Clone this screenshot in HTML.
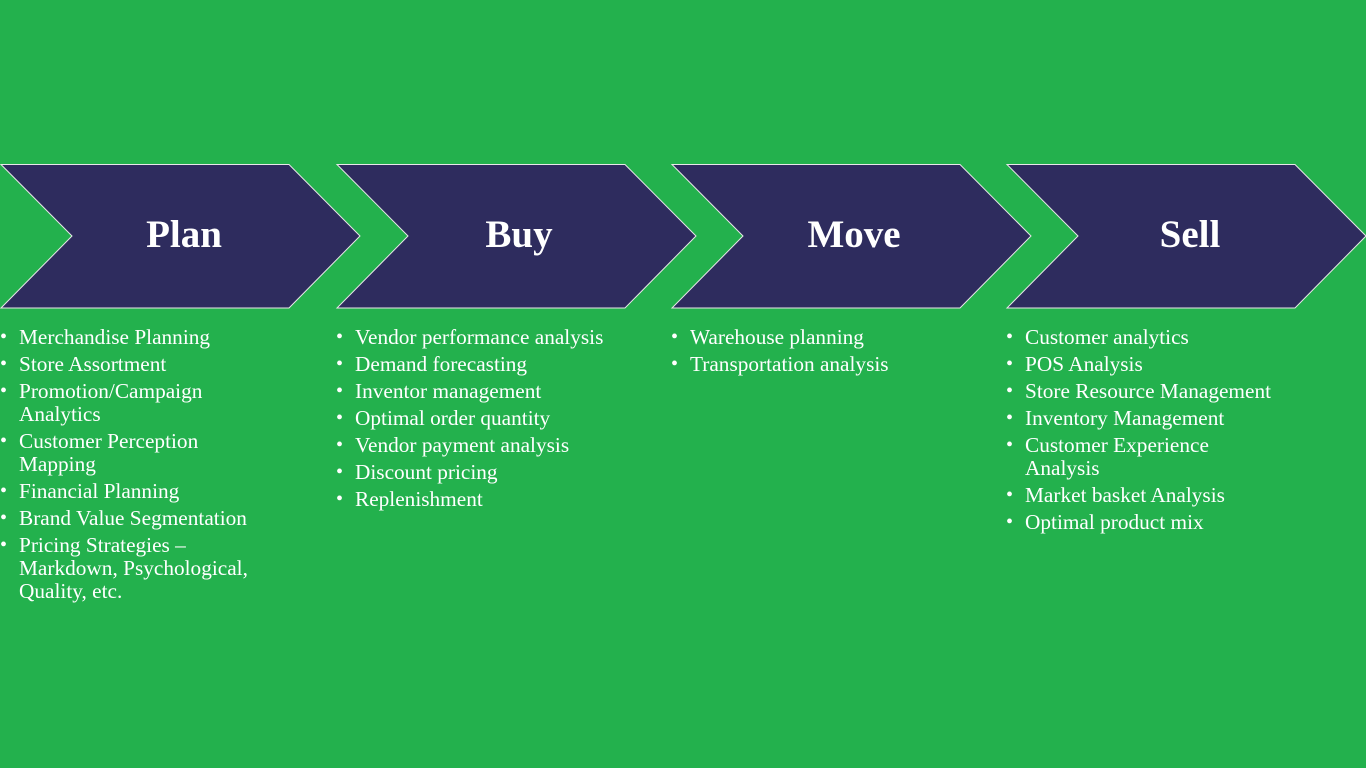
<!DOCTYPE html>
<html><head><meta charset="utf-8"><style>
body{margin:0;width:1366px;height:768px;background:#23b14d;position:relative;overflow:hidden;font-family:"Liberation Serif",serif;color:#fff}
svg{position:absolute;left:0;top:0}
.t{position:absolute;top:211px;font-size:39px;font-weight:bold;width:200px;text-align:center;line-height:48px}
ul{position:absolute;top:326px;margin:0;padding:0;list-style:none;font-size:21.3px;line-height:23px}
li{position:relative;padding-left:19px;margin-bottom:4px;white-space:nowrap}
li:before{content:"•";position:absolute;left:0;top:0;font-size:20px}
</style></head><body>
<svg width="1366" height="768">
<g fill="#2e2c5e" stroke="#e8e8e8" stroke-width="1">
<polygon points="1,164.5 289,164.5 360,236 289,308 1,308 72,236"/>
<polygon points="337,164.5 625,164.5 696,236 625,308 337,308 408,236"/>
<polygon points="672,164.5 960,164.5 1031,236 960,308 672,308 743,236"/>
<polygon points="1007,164.5 1295,164.5 1366,236 1295,308 1007,308 1078,236"/>
</g></svg>
<div class="t" style="left:84px">Plan</div>
<div class="t" style="left:419px">Buy</div>
<div class="t" style="left:754px">Move</div>
<div class="t" style="left:1090px">Sell</div>
<ul style="left:0">
<li>Merchandise Planning</li><li>Store Assortment</li><li>Promotion/Campaign<br>Analytics</li><li>Customer Perception<br>Mapping</li><li>Financial Planning</li><li>Brand Value Segmentation</li><li>Pricing Strategies –<br>Markdown, Psychological,<br>Quality, etc.</li>
</ul>
<ul style="left:336px">
<li>Vendor performance analysis</li><li>Demand forecasting</li><li>Inventor management</li><li>Optimal order quantity</li><li>Vendor payment analysis</li><li>Discount pricing</li><li>Replenishment</li>
</ul>
<ul style="left:671px">
<li>Warehouse planning</li><li>Transportation analysis</li>
</ul>
<ul style="left:1006px">
<li>Customer analytics</li><li>POS Analysis</li><li>Store Resource Management</li><li>Inventory Management</li><li>Customer Experience<br>Analysis</li><li>Market basket Analysis</li><li>Optimal product mix</li>
</ul>
</body></html>
